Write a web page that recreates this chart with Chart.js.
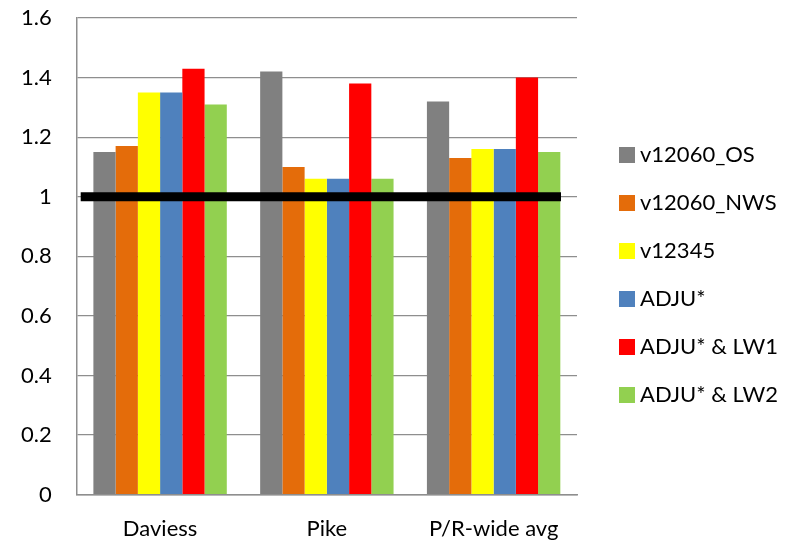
<!DOCTYPE html>
<html>
<head>
<meta charset="utf-8">
<script src="https://cdn.jsdelivr.net/npm/chart.js@4.4.1/dist/chart.umd.min.js"></script>
<style>
  html, body { margin: 0; padding: 0; background: #fff; }
  #wrap { width: 803px; height: 544px; position: relative; }
</style>
</head>
<body>
<div id="wrap"><canvas id="chart"></canvas></div>
<script>
const categories = ['Daviess', 'Pike', 'P/R-wide avg'];
const seriesNames = ['v12060_OS', 'v12060_NWS', 'v12345', 'ADJU*', 'ADJU* & LW1', 'ADJU* & LW2'];
const seriesColors = ['#808080', '#E46C0A', '#FFFF00', '#4F81BD', '#FF0000', '#92D050'];

const v12060OS  = [1.15, 1.42, 1.32];
const v12060NWS = [1.17, 1.10, 1.13];
const v12345    = [1.35, 1.06, 1.16];
const adju      = [1.35, 1.06, 1.16];
const adjuLW1   = [1.43, 1.38, 1.40];
const adjuLW2   = [1.31, 1.06, 1.15];

const seriesValues = [v12060OS, v12060NWS, v12345, adju, adjuLW1, adjuLW2];
const refValue = 1;

const fontFamily = 'Lato, "Open Sans", sans-serif';
const font = { family: fontFamily, size: 22 };

// thick black reference line at y = 1
const refLine = {
    id: 'refLine',
    afterDatasetsDraw(chart) {
        const { ctx, chartArea, scales } = chart;
        const y = scales.y.getPixelForValue(refValue);
        ctx.save();
        ctx.strokeStyle = '#000';
        ctx.lineWidth = 9;
        ctx.beginPath();
        ctx.moveTo(chartArea.left + 4, y);
        ctx.lineTo(chartArea.right - 16, y);
        ctx.stroke();
        ctx.restore();
    }
};

// legend drawn to the right of the plot, Excel style (small gap between swatch and text)
const sideLegend = {
    id: 'sideLegend',
    afterDraw(chart) {
        const { ctx, chartArea } = chart;
        const rowGap = 48;
        const n = chart.data.datasets.length;
        const x = chartArea.right + 42;
        const y0 = chart.height / 2 - rowGap * (n - 1) / 2 + 3;
        ctx.save();
        ctx.font = `${font.size}px ${fontFamily}`;
        ctx.textBaseline = 'middle';
        chart.data.datasets.forEach((ds, i) => {
            const y = y0 + i * rowGap;
            ctx.fillStyle = ds.backgroundColor;
            ctx.fillRect(x, y - 8, 16, 16);
            ctx.fillStyle = '#000';
            ctx.fillText(ds.label, x + 21, y);
        });
        ctx.restore();
    }
};

new Chart(document.getElementById('chart').getContext('2d'), {
    type: 'bar',
    data: {
        labels: categories,
        datasets: seriesNames.map((name, i) => ({
            label: name,
            data: seriesValues[i],
            backgroundColor: seriesColors[i],
            borderWidth: 0,
            categoryPercentage: 0.8,
            barPercentage: 1.0
        }))
    },
    options: {
        responsive: true,
        maintainAspectRatio: false,
        animation: false,
        layout: { padding: { top: 18, right: 226, left: 21, bottom: -11 } },
        scales: {
            x: {
                grid: { display: false },
                border: { color: '#8e8e8e', width: 1.5 },
                ticks: { color: '#000', font: font, padding: 13 },
                afterFit(s) { s.paddingLeft = 0; s.paddingRight = 0; }
            },
            y: {
                min: 0,
                max: 1.6,
                ticks: {
                    stepSize: 0.2,
                    color: '#000',
                    font: font,
                    padding: 25,
                    callback: v => Math.round(v * 10) / 10
                },
                grid: { color: '#8e8e8e', lineWidth: 1.3, drawTicks: false },
                border: { color: '#8e8e8e', width: 1.5 },
                // tick padding should only push labels sideways, not shrink the plot
                afterFit(s) { s.paddingTop = 0; s.paddingBottom = 0; s.width -= 25; }
            }
        },
        plugins: {
            legend: { display: false },
            tooltip: { enabled: false }
        }
    },
    plugins: [refLine, sideLegend]
});
</script>
</body>
</html>
